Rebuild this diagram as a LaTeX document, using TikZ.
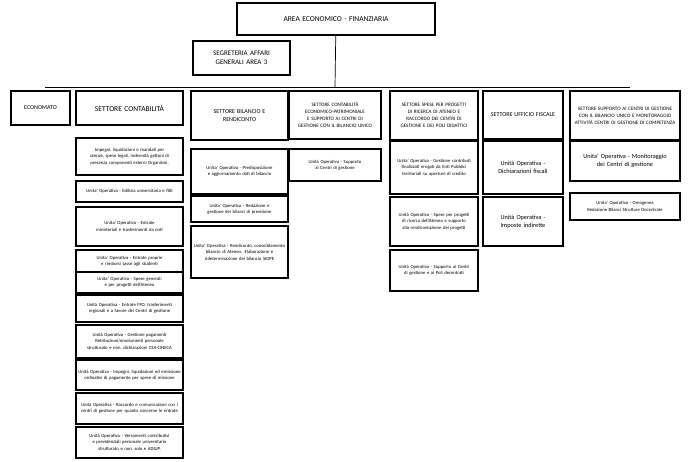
\documentclass[tikz,border=0pt]{standalone}
\usepackage{fontspec}
\setmainfont{Carlito}
\hyphenpenalty=10000
\exhyphenpenalty=10000
\newcommand{\bx}[7]{%
 \pgfmathsetlengthmacro\bw{(#4-#2)*1pt}%
 \pgfmathsetlengthmacro\bh{(#5-#3)*1pt}%
 \pgfmathsetlengthmacro\tw{(#4-#2-4)*1pt}%
 \node[box,minimum width=\bw,minimum height=\bh,text width=\tw,font=#7] (#1) at ({(#2+#4)/2},{(#3+#5)/2}) {#6};}
\begin{document}
\language=255
\hyphenpenalty=10000
\begin{tikzpicture}[x=1pt,y=-1pt,
 box/.style={draw,line width=1.1pt,inner sep=1pt,align=center,fill=white,
   execute at begin node={\language=255\hyphenpenalty=10000\lefthyphenmin=60}},
 lk/.style={line width=0.7pt}]
\useasboundingbox (0,0) rectangle (700,461);
\fill[white] (0,0) rectangle (700,461);
\coordinate (hl) at (45,87);
\coordinate (hr) at (630,87);
\coordinate (hm) at (335,87);
\draw[lk] (hl) -- (hr);
\bx{top}{237}{3}{435}{35}{AREA ECONOMICO - FINANZIARIA}{\fontsize{7.5}{9}\selectfont}
\draw[lk] (top) -- (hm);
\bx{seg}{193}{41}{290}{75}{SEGRETERIA AFFARI GENERALI AREA 3}{\fontsize{7}{9}\selectfont}
\def\hs{\fontsize{5.1}{7.1}\selectfont}
\def\ts{\fontsize{4.7}{6.4}\selectfont}
\bx{eco}{11}{91}{70}{125}{ECONOMATO}{\fontsize{6}{7}\selectfont}
\bx{con}{76}{91}{183}{125}{SETTORE CONTABILITÀ}{\fontsize{7.5}{9}\selectfont}
\bx{bil}{191}{91}{288}{140}{SETTORE BILANCIO E\\ RENDICONTO}{\fontsize{6}{8}\selectfont}
\bx{cep}{289}{91}{381}{139}{SETTORE CONTABILITÀ ECONOMICO-PATRIMONIALE E SUPPORTO AI CENTRI DI GESTIONE CON IL BILANCIO UNICO}{\hs}
\bx{spe}{390}{91}{478}{140}{SETTORE SPESE PER PROGETTI DI RICERCA DI ATENEO E RACCORDO DEI CENTRI DI GESTIONE E DEI POLI DIDATTICI}{\hs}
\bx{fis}{483}{91}{563}{139}{SETTORE UFFICIO FISCALE}{\fontsize{6}{8}\selectfont}
\bx{sup}{570}{91}{680}{140}{SETTORE SUPPORTO AI CENTRI DI GESTIONE CON IL BILANCIO UNICO E MONITORAGGIO ATTIVITÀ CENTRI DI GESTIONE DI COMPETENZA}{\hs}
% contabilita children
\bx{c1}{76}{138}{183}{175}{Impegni, liquidazioni e mandati per utenze, spese legali, indennità gettoni di presenza componenti esterni Organismi.}{\ts}
\bx{c2}{76}{181}{183}{202}{Unita' Operativa - Edilizia universitaria e fitti}{\ts}
\bx{c3}{76}{207}{183}{246}{Unita' Operativa - Entrate ministeriali e trasferimenti da enti}{\ts}
\bx{c4}{76}{250}{183}{272}{Unita' Operativa - Entrate proprie e rimborsi tasse agli studenti}{\ts}
\bx{c5}{76}{272}{183}{293}{Unita' Operativa - Spese generali e per progetti dell'Ateneo}{\ts}
\bx{c6}{76}{295}{183}{322}{Unità Operativa - Entrate FFO, trasferimenti regionali e a favore dei Centri di gestione}{\ts}
\bx{c7}{76}{325}{183}{358}{Unità Operativa - Gestione pagamenti Retribuzioni/emolumenti personale strutturato e non, dichiarazioni CSA-CINECA}{\ts}
\bx{c8}{76}{360}{183}{390}{Unità Operativa - Impegni, liquidazioni ed emissione ordinativi di pagamento per spese di missione}{\ts}
\bx{c9}{76}{393}{183}{424}{Unità Operativa - Raccordo e comunicazioni con i centri di gestione per quanto concerne le entrate}{\ts}
\bx{c10}{76}{427}{183}{458}{Unità Operativa - Versamenti contributivi e previdenziali personale universitario strutturato e non, solo e ADIUP.}{\ts}
% bilancio
\bx{b1}{191}{149}{288}{194}{Unita' Operativa - Predisposizione e aggiornamento dati di bilancio}{\ts}
\bx{b2}{191}{196}{288}{222}{Unita' Operativa - Redazione e gestione dei bilanci di previsione}{\ts}
\bx{b3}{191}{226}{288}{278}{Unita' Operativa - Rendiconto, consolidamento bilancio di Ateneo. Elaborazione e rideterminazione del bilancio SIOPE}{\ts}
% cep
\bx{e1}{289}{149}{381}{181}{Unità Operativa - Supporto ai Centri di gestione}{\ts}
% spese
\bx{s1}{390}{141}{478}{194}{Unita' Operativa - Gestione contributi finalizzati erogati da Enti Pubblici territoriali su aperture di credito}{\ts}
\bx{s2}{390}{197}{478}{246}{Unità Operativa - Spese per progetti di ricerca dell'Ateneo e supporto alla rendicontazione dei progetti}{\ts}
\bx{s3}{390}{250}{478}{291}{Unità Operativa - Supporto ai Centri di gestione e ai Poli decentrati}{\ts}
% fiscale
\bx{f1}{483}{141}{563}{194}{Unità Operativa - Dichiarazioni fiscali}{\fontsize{6.3}{8}\selectfont}
\bx{f2}{483}{197}{563}{246}{Unità Operativa - Imposte indirette}{\fontsize{6.3}{8}\selectfont}
% supporto
\bx{p1}{570}{141}{680}{181}{Unita' Operativa - Monitoraggio dei Centri di gestione}{\fontsize{6.3}{8}\selectfont}
\bx{p2}{570}{193}{680}{220}{Unita' Operativa - Omogenea Redazione Bilanci Strutture Decentrate}{\ts}
\end{tikzpicture}
\end{document}
